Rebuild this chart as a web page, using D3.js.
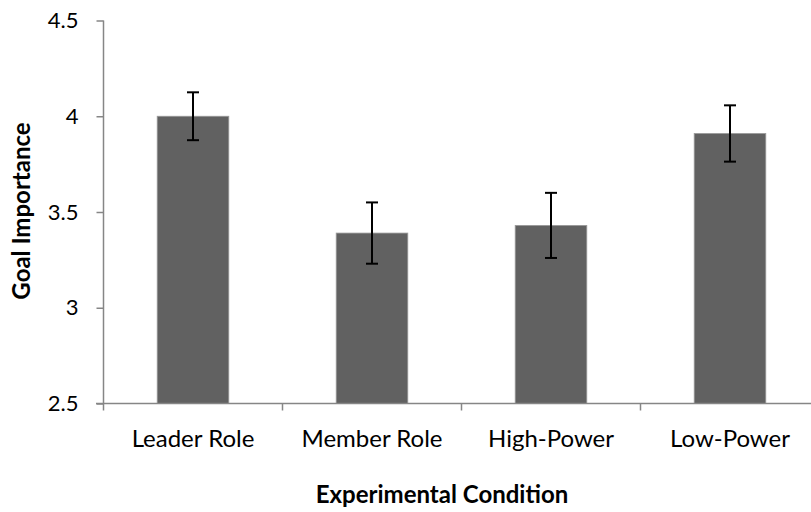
<!DOCTYPE html>
<html><head><meta charset="utf-8">
<script src="https://cdn.jsdelivr.net/npm/d3@7/dist/d3.min.js"></script>
<style>body{margin:0;background:#fff}svg{display:block}</style>
</head><body>
<svg id="c" width="811" height="512"></svg>
<script>
const categories = ["Leader Role", "Member Role", "High-Power", "Low-Power"];
const means = [4.00, 3.39, 3.43, 3.91];
const errors = [0.125, 0.16, 0.17, 0.147];
const yTicks = [2.5, 3, 3.5, 4, 4.5];
const xTitle = "Experimental Condition";
const yTitle = "Goal Importance";

const svg = d3.select("#c");
const font = "Lato, 'Open Sans', sans-serif";
const axisColor = "#868686";

const x = d3.scaleBand().domain(categories).range([103.5, 819.5]).padding(0);
const y = d3.scaleLinear().domain([2.5, 4.5]).range([403.5, 20.5]);
const barW = x.bandwidth() * 0.4;

// bars
svg.append("g").selectAll("rect").data(categories).join("rect")
  .attr("x", (d) => x(d) + x.bandwidth() / 2 - barW / 2)
  .attr("y", (d, i) => y(means[i]))
  .attr("width", barW)
  .attr("height", (d, i) => y(2.5) - y(means[i]))
  .attr("fill", "#616161")
  .attr("stroke", "#9a9a9a")
  .attr("stroke-width", 0.8);

// error bars
const eg = svg.append("g").attr("stroke", "#000").attr("stroke-width", 2);
categories.forEach((c, i) => {
  const cx = x(c) + x.bandwidth() / 2;
  const hi = y(means[i] + errors[i]), lo = y(means[i] - errors[i]);
  eg.append("line").attr("x1", cx).attr("x2", cx).attr("y1", hi).attr("y2", lo);
  eg.append("line").attr("x1", cx - 6).attr("x2", cx + 6).attr("y1", hi).attr("y2", hi);
  eg.append("line").attr("x1", cx - 6).attr("x2", cx + 6).attr("y1", lo).attr("y2", lo);
});

// y axis
const ya = svg.append("g").attr("transform", "translate(103.5,0)")
  .call(d3.axisLeft(y).tickValues(yTicks).tickFormat(d3.format("")).tickSize(7).tickPadding(18));
ya.select(".domain").attr("stroke", axisColor).attr("stroke-width", 1.5).attr("d", `M0,${y(4.5)}V${y(2.5)}`);
ya.selectAll(".tick line").attr("stroke", axisColor).attr("stroke-width", 1.5);
ya.selectAll(".tick text").attr("fill", "#000").style("font-family", font).style("font-size", "22px");

// x axis
const xa = svg.append("g").attr("transform", `translate(0,${y(2.5)})`);
xa.append("line").attr("x1", 96).attr("x2", 811).attr("y1", 0).attr("y2", 0)
  .attr("stroke", axisColor).attr("stroke-width", 1.5);
xa.selectAll("line.tk").data(categories).join("line").attr("class", "tk")
  .attr("x1", (d) => x(d)).attr("x2", (d) => x(d)).attr("y1", 0).attr("y2", 7)
  .attr("stroke", axisColor).attr("stroke-width", 1.5);
xa.selectAll("text").data(categories).join("text")
  .attr("x", (d) => x(d) + x.bandwidth() / 2).attr("y", 43.5)
  .attr("text-anchor", "middle").style("font-family", font).style("font-size", "24px")
  .text((d) => d);

// titles
svg.append("text").attr("x", 442).attr("y", 503).attr("text-anchor", "middle")
  .style("font-family", font).style("font-size", "24px").style("font-weight", "bold").text(xTitle);
svg.append("text").attr("transform", "translate(30,211) rotate(-90)").attr("text-anchor", "middle")
  .style("font-family", font).style("font-size", "24px").style("font-weight", "bold").text(yTitle);
</script>
</body></html>
